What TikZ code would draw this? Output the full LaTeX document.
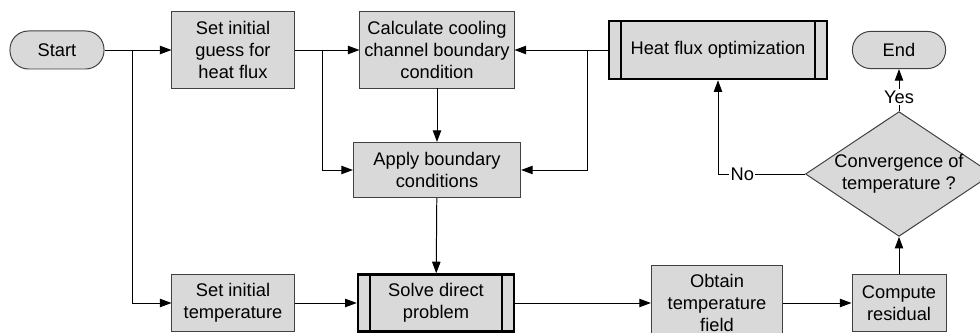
\documentclass[tikz,border=0pt]{standalone}
\usepackage{fontspec}
\setmainfont{Liberation Sans}
\usepackage{xcolor}
\usepackage{tikz}
\usetikzlibrary{arrows.meta,shapes.geometric}
\definecolor{boxgray}{HTML}{D9D9D9}
\definecolor{boxedge}{HTML}{404040}
\tikzset{
  procbox/.style={
    draw=boxedge,
    fill=boxgray,
    line width=0.7pt,
    align=center,
    inner sep=2pt
  },
  termbox/.style={procbox, rounded corners=0.46cm},
  subprocbox/.style={
    procbox,
    draw=black,
    line width=1.8pt,
    path picture={
      \draw[line width=1.6pt]
        ([xshift=0.3cm]path picture bounding box.north west) --
        ([xshift=0.3cm]path picture bounding box.south west);
      \draw[line width=1.6pt]
        ([xshift=-0.3cm]path picture bounding box.north east) --
        ([xshift=-0.3cm]path picture bounding box.south east);
    }
  },
  decbox/.style={procbox, shape=diamond, aspect=1.5, inner sep=0pt},
  flow/.style={-{Triangle[length=2.9mm,width=2.1mm]}, line width=0.7pt, draw=black},
  flowlabel/.style={fill=white, inner sep=1pt}
}

\begin{document}
\begin{tikzpicture}[x=0.025cm, y=-0.025cm, font=\fontsize{13}{15.4}\selectfont]
  \useasboundingbox (0,0) rectangle (980,333);

  % top row
  \node[termbox, minimum width=2.35cm, minimum height=0.95cm] (start) at (57,50) {Start};
  \node[procbox, minimum width=3.05cm, minimum height=1.9cm] (guess) at (233,50) {Set initial\\guess for\\heat flux};
  \node[procbox, minimum width=3.85cm, minimum height=1.9cm] (calc) at (437,50) {Calculate cooling\\channel boundary\\condition};
  \node[subprocbox, minimum width=5.45cm, minimum height=1.45cm] (hfo) at (718,50) {Heat flux optimization};
  \node[termbox, minimum width=2.33cm, minimum height=0.93cm] (end) at (899,50) {End};

  % middle
  \node[procbox, minimum width=4.18cm, minimum height=1.38cm] (apply) at (437,170) {Apply boundary\\conditions};
  \node[decbox, minimum width=4.6cm, minimum height=3.05cm] (conv) at (899,174) {Convergence of\\temperature ?};

  % bottom row
  \node[procbox, minimum width=3.05cm, minimum height=1.4cm] (tinit) at (233,303) {Set initial\\temperature};
  \node[subprocbox, minimum width=3.9cm, minimum height=1.42cm] (solve) at (436,303) {Solve direct\\problem};
  \node[procbox, minimum width=3.28cm, minimum height=1.85cm] (field) at (717,303) {Obtain\\temperature\\field};
  \node[procbox, minimum width=2.35cm, minimum height=1.42cm] (resid) at (899,303) {Compute\\residual};

  % branch points
  \coordinate (split1) at (132,50);
  \coordinate (split2) at (322,50);
  \coordinate (split3) at (587,50);

  % arrows
  \draw[flow] (start) -- (guess);
  \draw[flow] (split1) |- (tinit.west);
  \draw[flow] (guess) -- (calc);
  \draw[flow] (split2) |- (apply.west);
  \draw[flow] (hfo) -- (calc);
  \draw[flow] (split3) |- (apply.east);
  \draw[flow] (calc) -- (apply);
  \draw[flow] (apply) -- (solve);
  \draw[flow] (tinit) -- (solve);
  \draw[flow] (solve) -- (field);
  \draw[flow] (field) -- (resid);
  \draw[flow] (resid) -- (conv);
  \draw[flow] (conv.west) -| node[flowlabel, pos=0.36] {No} (hfo.south);
  \draw[flow] (conv.north) -- node[flowlabel, pos=0.34] {Yes} (end.south);
\end{tikzpicture}
\end{document}
